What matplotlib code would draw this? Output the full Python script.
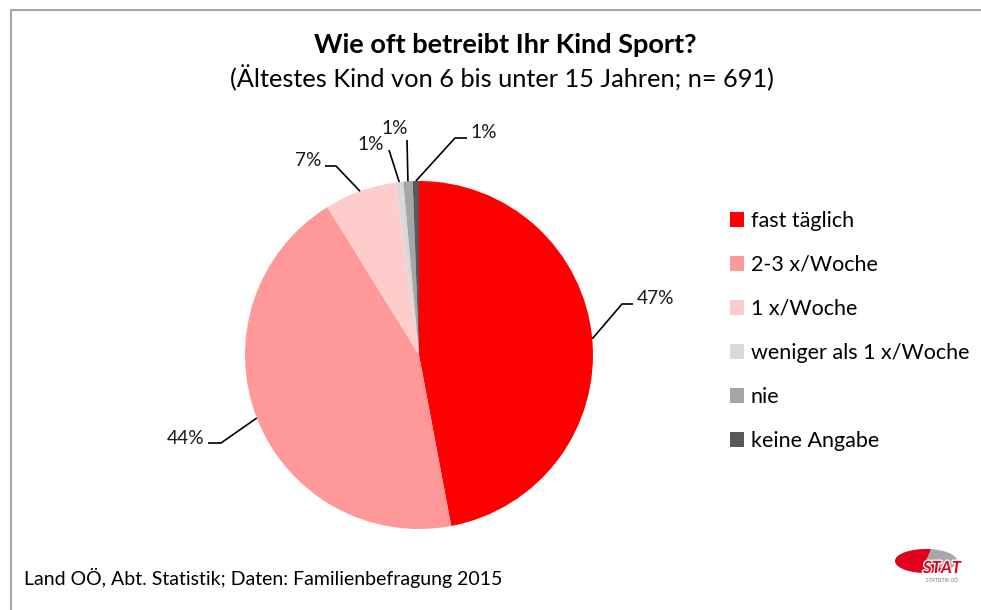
import matplotlib
matplotlib.use('Agg')
import matplotlib.pyplot as plt
import matplotlib.patheffects as pe
from matplotlib.patches import Polygon
import numpy as np

categories = ['fast täglich', '2-3 x/Woche', '1 x/Woche',
              'weniger als 1 x/Woche', 'nie', 'keine Angabe']
counts = [325, 305, 46, 5, 6, 4]   # n = 691
colors = ['#FF0000', '#FF9999', '#FFCCCC', '#D9D9D9', '#A6A6A6', '#595959']
pct_labels = ['47%', '44%', '7%', '1%', '1%', '1%']

title = 'Wie oft betreibt Ihr Kind Sport?'
subtitle = '(Ältestes Kind von 6 bis unter 15 Jahren; n= 691)'
source = 'Land OÖ, Abt. Statistik; Daten: Familienbefragung 2015'

plt.rcParams['font.family'] = ['Lato', 'DejaVu Sans']

W, H = 981, 610
fig = plt.figure(figsize=(W / 100, H / 100), dpi=100)
ax = fig.add_axes([0, 0, 1, 1])

cx, cy, r = 419, H - 355, 174
wedges, _ = ax.pie(counts, colors=colors, startangle=90, counterclock=False,
                   center=(cx, cy), radius=r, wedgeprops=dict(linewidth=0))
ax.set_xlim(0, W)
ax.set_ylim(0, H)
ax.set_aspect('equal')
ax.axis('off')


def Y(y):
    # picture rows run downward
    return H - y


# leader line layout: (elbow, line end, text pos, ha)
label_layout = [
    ((622, 304), (633, 304), (637, 299), 'left'),
    ((221, 443), (208, 443), (204, 438), 'right'),
    ((336, 166), (325, 166), (321, 160), 'right'),
    (None, (389, 150), (384, 144), 'right'),
    (None, (407, 140), (395, 129), 'center'),
    ((455, 138), (467, 138), (470, 133), 'left'),
]

for w, lab, (elbow, end, tpos, ha) in zip(wedges, pct_labels, label_layout):
    th = np.deg2rad((w.theta1 + w.theta2) / 2)
    xs = [cx + r * np.cos(th)]
    ys = [cy + r * np.sin(th)]
    if elbow is not None:
        xs.append(elbow[0])
        ys.append(Y(elbow[1]))
    xs.append(end[0])
    ys.append(Y(end[1]))
    ax.plot(xs, ys, color='black', lw=1.2, solid_capstyle='butt')
    ax.text(tpos[0], Y(tpos[1]), lab, ha=ha, va='center', fontsize=13.8,
            color='#1a1a1a')

ax.legend(wedges, categories, loc='upper left',
          bbox_to_anchor=(719 / W, Y(200) / H), frameon=False,
          fontsize=15.5, handlelength=0.68, handleheight=0.68,
          handletextpad=0.3, labelspacing=1.12, borderpad=0)

ax.text(505, Y(45), title, ha='center', va='center', fontsize=19.5,
        fontweight='bold')
ax.text(502, Y(78), subtitle, ha='center', va='center', fontsize=18.3)
ax.text(24, Y(578), source, ha='left', va='center', fontsize=14)

# chart frame (only top and left edge visible)
ax.plot([11, 11, W], [0, Y(10), Y(10)], color='#A6A6A6', lw=1.5)

# small STAT logo
t = np.linspace(np.deg2rad(80), np.deg2rad(310), 60)
pts = [(926, Y(561))] + [(926 + 31 * np.cos(a), Y(561) + 12 * np.sin(a)) for a in t]
ax.add_patch(Polygon(pts, closed=True, color='#E2001A', lw=0))
t = np.linspace(np.deg2rad(-50), np.deg2rad(80), 60)
pts = [(926, Y(561))] + [(926 + 31 * np.cos(a), Y(561) + 12 * np.sin(a)) for a in t]
ax.add_patch(Polygon(pts, closed=True, color='#A8A8A8', lw=0))
ax.text(942, Y(568), 'STAT', ha='center', va='center', fontsize=12,
        fontweight='bold', fontstyle='italic', color='#E2001A',
        path_effects=[pe.withStroke(linewidth=2, foreground='white')])
ax.text(942, Y(580), 'STATISTIK OÖ', ha='center', va='center', fontsize=3.5,
        color='#777777')

fig.savefig('out.png', dpi=100)
